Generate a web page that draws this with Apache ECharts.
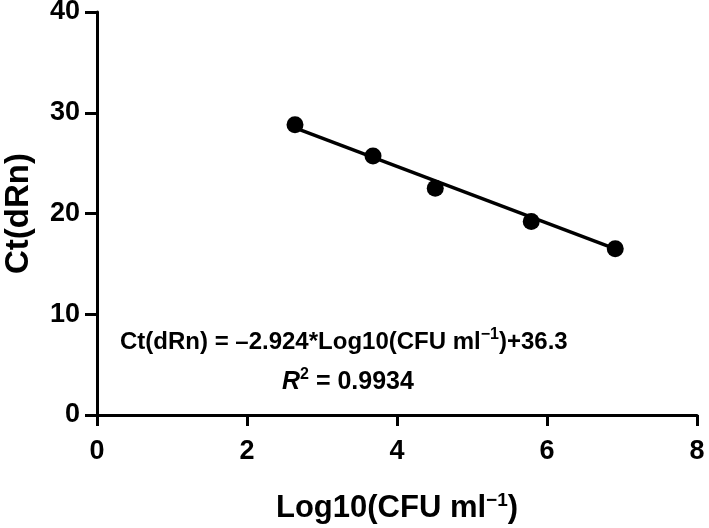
<!DOCTYPE html>
<html><head><meta charset="utf-8">
<script src="https://cdn.jsdelivr.net/npm/echarts@6/dist/echarts.min.js"></script>
<style>html,body{margin:0;padding:0;background:#fff}#c{width:709px;height:528px}</style>
</head><body><div id="c"></div>
<script>
// Data
const logCFU   = [2.64, 3.68, 4.51, 5.79, 6.91];
const ctValues = [28.8, 25.7, 22.5, 19.2, 16.5];
const fitX = [2.64, 6.91];
const fitY = [28.5, 16.5];
const xTicks = ['0', '2', '4', '6', '8'];
const yTicks = ['0', '10', '20', '30', '40'];
const eqLine1 = ['Ct(dRn) = \u20132.924*Log10(CFU ml', '\u22121', ')+36.3'];
const eqLine2 = ['R', '2', ' = 0.9934'];
const xTitle = ['Log10(CFU ml', '\u22121', ')'];
const yTitle = 'Ct(dRn)';

const FONT = '"Liberation Sans", Arial, sans-serif';
const chart = echarts.init(document.getElementById('c'));
const supStyle = (fs, raise) => ({ fontSize: fs, fontWeight: 'bold', fontFamily: FONT, color: '#000', padding: [0, 0, raise, 0] });

chart.setOption({
  animation: false,
  backgroundColor: '#fff',
  grid: { left: 97, top: 12, width: 600, height: 403, containLabel: false, outerBoundsMode: 'none' },
  xAxis: {
    type: 'value', min: 0, max: 8, interval: 2,
    axisLine: { show: true, onZero: false, lineStyle: { color: '#000', width: 3 } },
    axisTick: { show: true, length: 11, lineStyle: { color: '#000', width: 3 } },
    splitLine: { show: false },
    axisLabel: { color: '#000', fontSize: 27, fontWeight: 'bold', fontFamily: FONT, margin: 23,
      formatter: v => xTicks[Math.round(v / 2)] },
    name: '{m|' + xTitle[0] + '}{s|' + xTitle[1] + '}{m|' + xTitle[2] + '}',
    nameLocation: 'middle', nameGap: 76,
    nameTextStyle: { rich: { m: { fontSize: 31, fontWeight: 'bold', fontFamily: FONT, color: '#000' }, s: supStyle(19, 16) } }
  },
  yAxis: {
    type: 'value', min: 0, max: 40, interval: 10,
    axisLine: { show: true, onZero: false, lineStyle: { color: '#000', width: 3 } },
    axisTick: { show: true, length: 12, lineStyle: { color: '#000', width: 3 } },
    splitLine: { show: false },
    axisLabel: { color: '#000', fontSize: 27, fontWeight: 'bold', fontFamily: FONT, margin: 17,
      formatter: v => yTicks[Math.round(v / 10)] },
    name: yTitle, nameLocation: 'middle', nameGap: 62,
    nameTextStyle: { color: '#000', fontSize: 33, fontWeight: 'bold', fontFamily: FONT }
  },
  series: [
    { type: 'line', data: fitX.map((x, i) => [x, fitY[i]]), showSymbol: false, symbol: 'none',
      lineStyle: { color: '#000', width: 3.5 }, z: 2 },
    { type: 'scatter', data: logCFU.map((x, i) => [x, ctValues[i]]), symbol: 'circle', symbolSize: 17,
      itemStyle: { color: '#000', opacity: 1 }, z: 3 }
  ],
  graphic: [
    { type: 'text', left: 120, top: 327, z: 10,
      style: { text: '{m|' + eqLine1[0] + '}{s|' + eqLine1[1] + '}{m|' + eqLine1[2] + '}',
        rich: { m: { fontSize: 24, fontWeight: 'bold', fontFamily: FONT, color: '#000' }, s: supStyle(16, 14) } } },
    { type: 'text', left: 282, top: 367, z: 10,
      style: { text: '{i|' + eqLine2[0] + '}{s|' + eqLine2[1] + '}{m|' + eqLine2[2] + '}',
        rich: { i: { fontSize: 25, fontWeight: 'bold', fontStyle: 'italic', fontFamily: FONT, color: '#000' },
                m: { fontSize: 25, fontWeight: 'bold', fontFamily: FONT, color: '#000' }, s: supStyle(16, 14) } } }
  ]
});
</script>
</body></html>
